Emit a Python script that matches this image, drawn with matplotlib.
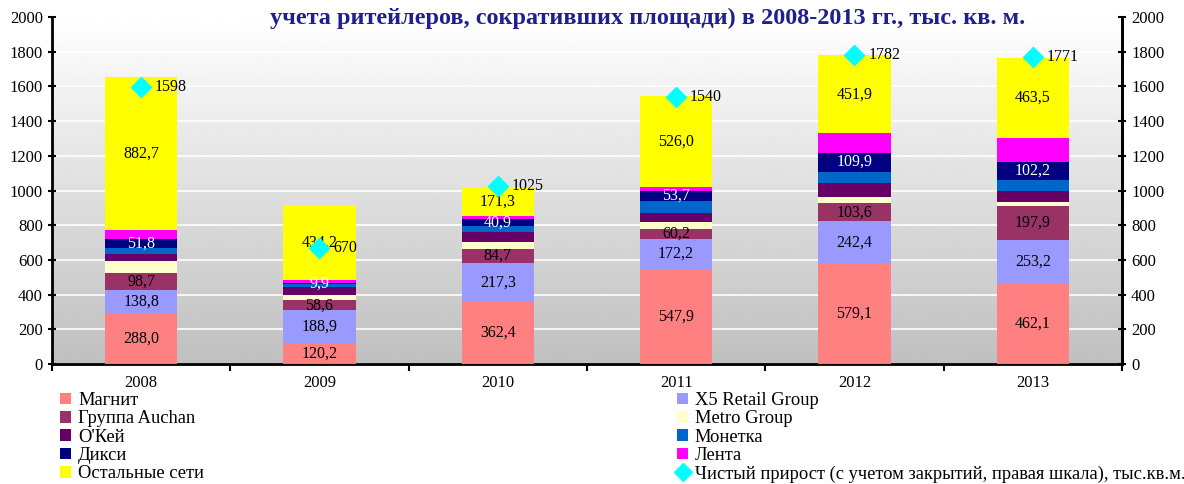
import numpy as np
import matplotlib.pyplot as plt
from matplotlib.patches import Patch
from matplotlib.lines import Line2D

plt.rcParams['font.family'] = ['Liberation Serif', 'DejaVu Serif']

years = ["2008", "2009", "2010", "2011", "2012", "2013"]

magnit = [288.0, 120.2, 362.4, 547.9, 579.1, 462.1]
x5 = [138.8, 188.9, 217.3, 172.2, 242.4, 253.2]
auchan = [98.7, 58.6, 84.7, 60.2, 103.6, 197.9]
metro = [71, 31, 40, 40, 35, 23]
okey = [36, 46, 58, 52, 86, 63]
monetka = [35, 14, 31, 69, 63, 63]
dixie = [51.8, 9.9, 40.9, 53.7, 109.9, 102.2]
lenta = [52, 13, 16, 23, 110, 138]
others = [882.7, 434.2, 171.3, 526.0, 451.9, 463.5]
net_growth = [1598, 670, 1025, 1540, 1782, 1771]

series = [
    ("Магнит", magnit, "#FF8080", True, "black"),
    ("X5 Retail Group", x5, "#9999FF", True, "black"),
    ("Группа Auchan", auchan, "#993366", True, "black"),
    ("Metro Group", metro, "#FFFFCC", False, "black"),
    ("O'Кей", okey, "#660066", False, "black"),
    ("Монетка", monetka, "#0066CC", False, "black"),
    ("Дикси", dixie, "#000080", True, "white"),
    ("Лента", lenta, "#FF00FF", False, "black"),
    ("Остальные сети", others, "#FFFF00", True, "black"),
]

fig = plt.figure(figsize=(11.84, 4.84), dpi=100)
ax = fig.add_axes([0.0439, 0.2479, 0.9037, 0.717])

# gradient background
grad = np.linspace(1, 0, 256).reshape(-1, 1)
ax.imshow(grad, extent=[0, 1, 0, 1], transform=ax.transAxes, cmap="gray",
          vmin=-3.0, vmax=1.0, aspect="auto", zorder=0)

x = np.arange(len(years))
bottom = np.zeros(len(years))
for name, vals, color, show, tc in series:
    vals = np.array(vals, dtype=float)
    ax.bar(x, vals, 0.405, bottom=bottom, color=color, zorder=3)
    if show:
        for i in range(len(years)):
            ax.text(x[i], bottom[i] + vals[i] / 2, f"{vals[i]:.1f}".replace(".", ","),
                    ha="center", va="center", fontsize=11.5, color=tc, zorder=5)
    bottom += vals

ax.set_xlim(-0.5, 5.5)
ax.set_ylim(0, 2000)
ax.set_yticks(np.arange(0, 2001, 200))
ax.yaxis.grid(True, color="white", linewidth=1.2, zorder=1)
ax.set_axisbelow(True)
ax.set_xticks(x)
ax.set_xticklabels(years, fontsize=12)
ax.set_xticks(np.arange(-0.5, 5.6, 1), minor=True)
ax.tick_params(axis="x", which="major", length=0, pad=8)
ax.tick_params(axis="x", which="minor", length=5, width=1.5, direction="out")
ax.tick_params(axis="y", labelsize=12, direction="inout", length=6, width=1.5)
ax.spines["top"].set_visible(False)
for s in ["left", "right", "bottom"]:
    ax.spines[s].set_linewidth(2)

ax2 = ax.twinx()
ax2.set_ylim(0, 2000)
ax2.set_yticks(np.arange(0, 2001, 200))
ax2.tick_params(axis="y", labelsize=12, direction="inout", length=6, width=1.5)
ax2.spines["top"].set_visible(False)
ax2.spines["right"].set_linewidth(2)
ax2.plot(x, net_growth, linestyle="none", marker="D", markersize=10.5,
         color="#00FFFF", zorder=6)
for i in range(len(years)):
    ax2.annotate(str(net_growth[i]), (x[i], net_growth[i]), xytext=(10, 0),
                 textcoords="offset points", va="center", ha="left", fontsize=11.5)

fig.text(0.547, 0.963, "учета ритейлеров, сокративших площади) в 2008-2013 гг., тыс. кв. м.",
         ha="center", va="center", fontsize=17.5, fontweight="bold", color="#1F1F8F")

handles = [Patch(facecolor=c, label=n) for n, v, c, s, t in series]
diamond = Line2D([], [], linestyle="none", marker="D", markersize=9, color="#00FFFF",
                 label="Чистый прирост (с учетом закрытий, правая шкала), тыс.кв.м.")
col1 = [handles[0], handles[2], handles[4], handles[6], handles[8]]
col2 = [handles[1], handles[3], handles[5], handles[7], diamond]
leg_kw = dict(frameon=False, fontsize=13.3, handlelength=0.6, handleheight=0.6,
              handletextpad=0.35, labelspacing=0.07, borderaxespad=0, borderpad=0)
fig.legend(handles=col1, loc="upper left", bbox_to_anchor=(0.051, 0.19), **leg_kw)
fig.legend(handles=col2, loc="upper left", bbox_to_anchor=(0.572, 0.19), **leg_kw)

fig.savefig("out.png", dpi=100)
